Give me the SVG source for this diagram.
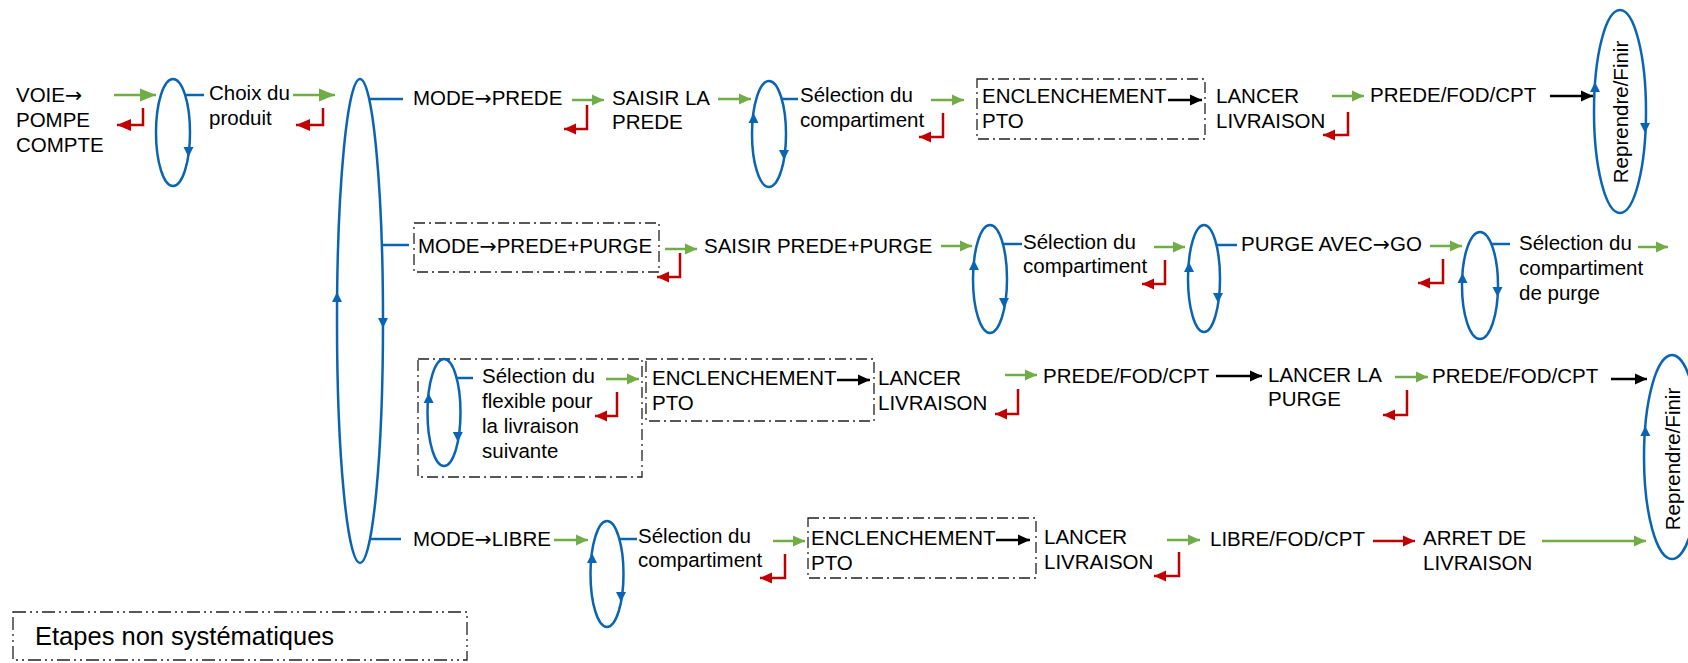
<svg xmlns="http://www.w3.org/2000/svg" width="1688" height="663" viewBox="0 0 1688 663">
<style>
text{font-family:"Liberation Sans",Arial,sans-serif;font-size:20.5px;fill:#000}
.ar{font-family:"DejaVu Sans",sans-serif}
.leg-t{font-size:25.5px}
.el{fill:none;stroke:#0A64B4;stroke-width:2.5}
.st{stroke:#0A64B4;stroke-width:2.5;fill:none}
.bh{fill:#0A64B4}
.g{stroke:#70AD47;stroke-width:2.5;fill:none;marker-end:url(#mg)}
.gb{stroke:#70AD47;stroke-width:2.5;fill:none;marker-end:url(#mgb)}
.r{stroke:#C00000;stroke-width:2.5;fill:none;marker-end:url(#mr)}
.rb{stroke:#C00000;stroke-width:2.5;fill:none;marker-end:url(#mrb)}
.k{stroke:#000;stroke-width:2.5;fill:none;marker-end:url(#mk)}
.box{fill:none;stroke:#222;stroke-width:1.3;stroke-dasharray:11 4 2 4}
.leg{fill:none;stroke:#222;stroke-width:1.3;stroke-dasharray:13 4 2 4 2 4}
</style>
<defs>
<marker id="mg" markerUnits="userSpaceOnUse" markerWidth="13" markerHeight="12" refX="12" refY="6" orient="auto"><path d="M0,0.5 L12,6 L0,11.5z" fill="#70AD47"/></marker>
<marker id="mgb" markerUnits="userSpaceOnUse" markerWidth="17" markerHeight="14" refX="16" refY="7" orient="auto"><path d="M0,0.5 L16,7 L0,13.5z" fill="#70AD47"/></marker>
<marker id="mr" markerUnits="userSpaceOnUse" markerWidth="13" markerHeight="12" refX="12" refY="6" orient="auto"><path d="M0,0.5 L12,6 L0,11.5z" fill="#C00000"/></marker>
<marker id="mrb" markerUnits="userSpaceOnUse" markerWidth="15" markerHeight="13" refX="14" refY="6.5" orient="auto"><path d="M0,0.5 L14,6.5 L0,12.5z" fill="#C00000"/></marker>
<marker id="mk" markerUnits="userSpaceOnUse" markerWidth="13" markerHeight="12" refX="12" refY="6" orient="auto"><path d="M0,0.5 L12,6 L0,11.5z" fill="#000"/></marker>
</defs>

<!-- Row 1 -->
<g id="n-voie"><text x="16" y="102">VOIE<tspan class="ar">→</tspan></text><text x="16" y="127">POMPE</text><text x="16" y="152">COMPTE</text></g>
<g id="n-ell1"><ellipse class="el" cx="173" cy="132.5" rx="17" ry="53.5"/><polygon class="bh" points="188.5,157 183.5,147 193.5,147"/></g>
<g id="n-choix"><text x="209" y="100">Choix du</text><text x="209" y="125">produit</text></g>
<g id="n-big"><ellipse class="el" cx="360" cy="321" rx="23" ry="242"/><polygon class="bh" points="337,292 332,302 342,302"/><polygon class="bh" points="383,328 378,318 388,318"/></g>
<g id="n-mode-prede"><text x="413" y="105">MODE<tspan class="ar">→</tspan>PREDE</text></g>
<g id="n-saisir"><text x="612" y="105">SAISIR LA</text><text x="612" y="129">PREDE</text></g>
<g id="n-ell2"><ellipse class="el" cx="769" cy="134" rx="17" ry="53"/><polygon class="bh" points="753.5,113 748.5,123 758.5,123"/><polygon class="bh" points="784,160 779,150 789,150"/></g>
<g id="n-sel1"><text x="800" y="102">Sélection du</text><text x="800" y="127">compartiment</text></g>
<g id="n-pto1"><rect class="box" x="977" y="79" width="228" height="60"/><text x="982" y="103">ENCLENCHEMENT</text><text x="982" y="128">PTO</text></g>
<g id="n-lancer1"><text x="1216" y="103">LANCER</text><text x="1216" y="128">LIVRAISON</text></g>
<g id="n-pfc1"><text x="1370" y="102">PREDE/FOD/CPT</text></g>
<g id="n-rep1"><ellipse class="el" cx="1620" cy="111.5" rx="26" ry="101.5"/><polygon class="bh" points="1595,82 1590,92 1600,92"/><polygon class="bh" points="1645,133 1640,123 1650,123"/><text transform="translate(1628,112) rotate(-90)" text-anchor="middle">Reprendre/Finir</text></g>

<!-- Row 2 -->
<g id="n-mode-pp"><rect class="box" x="414" y="223" width="245" height="49"/><text x="418" y="253">MODE<tspan class="ar">→</tspan>PREDE+PURGE</text></g>
<g id="n-saisir-pp"><text x="704" y="253">SAISIR PREDE+PURGE</text></g>
<g id="n-r2e1"><ellipse class="el" cx="990" cy="279" rx="17" ry="54"/><polygon class="bh" points="974,260 969,270 979,270"/><polygon class="bh" points="1004,308 999,298 1009,298"/></g>
<g id="n-sel2"><text x="1023" y="249">Sélection du</text><text x="1023" y="273">compartiment</text></g>
<g id="n-r2e2"><ellipse class="el" cx="1204" cy="278.5" rx="16" ry="53.5"/><polygon class="bh" points="1189,262 1184,272 1194,272"/><polygon class="bh" points="1218,303 1213,293 1223,293"/></g>
<g id="n-purge-go"><text x="1241" y="251">PURGE AVEC<tspan class="ar">→</tspan>GO</text></g>
<g id="n-r2e3"><ellipse class="el" cx="1480" cy="285.5" rx="18" ry="53.5"/><polygon class="bh" points="1462.5,273 1457.5,283 1467.5,283"/><polygon class="bh" points="1497.5,297 1492.5,287 1502.5,287"/></g>
<g id="n-sel-purge"><text x="1519" y="250">Sélection du</text><text x="1519" y="275">compartiment</text><text x="1519" y="300">de purge</text></g>

<!-- Row 3 -->
<g id="n-flex"><rect class="box" x="418" y="359" width="224" height="118"/><ellipse class="el" cx="444" cy="412.5" rx="16.5" ry="53.5"/><polygon class="bh" points="428.6,393 423.6,403 433.6,403"/><polygon class="bh" points="457.8,442 452.8,432 462.8,432"/><text x="482" y="383">Sélection du</text><text x="482" y="408">flexible pour</text><text x="482" y="433">la livraison</text><text x="482" y="458">suivante</text></g>
<g id="n-pto3"><rect class="box" x="646" y="359" width="228" height="62"/><text x="652" y="385">ENCLENCHEMENT</text><text x="652" y="410">PTO</text></g>
<g id="n-lancer3"><text x="878" y="385">LANCER</text><text x="878" y="410">LIVRAISON</text></g>
<g id="n-pfc3"><text x="1043" y="383">PREDE/FOD/CPT</text></g>
<g id="n-lancer-purge"><text x="1268" y="382">LANCER LA</text><text x="1268" y="406">PURGE</text></g>
<g id="n-pfc3b"><text x="1432" y="383">PREDE/FOD/CPT</text></g>
<g id="n-rep2"><ellipse class="el" cx="1672" cy="457" rx="28" ry="102"/><polygon class="bh" points="1645.3,426 1640.3,436 1650.3,436"/><text transform="translate(1680,459) rotate(-90)" text-anchor="middle">Reprendre/Finir</text></g>

<!-- Row 4 -->
<g id="n-mode-libre"><text x="413" y="546">MODE<tspan class="ar">→</tspan>LIBRE</text></g>
<g id="n-r4e"><ellipse class="el" cx="607" cy="574" rx="16.5" ry="53"/><polygon class="bh" points="592,553 587,563 597,563"/><polygon class="bh" points="621,602 616,592 626,592"/></g>
<g id="n-sel4"><text x="638" y="543">Sélection du</text><text x="638" y="567">compartiment</text></g>
<g id="n-pto4"><rect class="box" x="808" y="518" width="228" height="60"/><text x="811" y="545">ENCLENCHEMENT</text><text x="811" y="570">PTO</text></g>
<g id="n-lancer4"><text x="1044" y="544">LANCER</text><text x="1044" y="569">LIVRAISON</text></g>
<g id="n-lfc"><text x="1210" y="546">LIBRE/FOD/CPT</text></g>
<g id="n-arret"><text x="1423" y="545">ARRET DE</text><text x="1423" y="570">LIVRAISON</text></g>

<!-- Legend -->
<g id="n-legend"><rect class="leg" x="13" y="612" width="454" height="48"/><text class="leg-t" x="35" y="645">Etapes non systématiques</text></g>

<g id="connectors">
<!-- blue stubs -->
<line class="st" x1="185" y1="95" x2="204" y2="95"/>
<line class="st" x1="369" y1="99" x2="403" y2="99"/>
<line class="st" x1="382" y1="245" x2="409" y2="245"/>
<line class="st" x1="370" y1="539" x2="401" y2="539"/>
<line class="st" x1="782" y1="99" x2="798" y2="99"/>
<line class="st" x1="1003" y1="244" x2="1022" y2="244"/>
<line class="st" x1="1216" y1="245" x2="1237" y2="245"/>
<line class="st" x1="1491" y1="244" x2="1510" y2="244"/>
<line class="st" x1="457" y1="378" x2="473" y2="378"/>
<line class="st" x1="619" y1="539" x2="637" y2="539"/>
<!-- row 1 -->
<line class="gb" x1="114" y1="95" x2="156" y2="95"/>
<path class="rb" d="M143,108 V125 H117"/>
<line class="gb" x1="293" y1="95" x2="335" y2="95"/>
<path class="rb" d="M323,108 V125 H296"/>
<line class="g" x1="572" y1="100" x2="604" y2="100"/>
<path class="r" d="M587,105 V129 H564"/>
<line class="g" x1="718" y1="99" x2="751" y2="99"/>
<line class="g" x1="931" y1="100" x2="964" y2="100"/>
<path class="r" d="M943,113 V137 H919"/>
<line class="k" x1="1168" y1="100" x2="1202" y2="100"/>
<line class="g" x1="1332" y1="96" x2="1364" y2="96"/>
<path class="r" d="M1348,112 V135 H1323"/>
<line class="k" x1="1550" y1="96" x2="1593" y2="96"/>
<!-- row 2 -->
<line class="g" x1="665" y1="249" x2="697" y2="249"/>
<path class="r" d="M680,253 V277 H657"/>
<line class="g" x1="941" y1="246" x2="972" y2="246"/>
<line class="g" x1="1154" y1="247" x2="1185" y2="247"/>
<path class="r" d="M1165,260 V284 H1142"/>
<line class="g" x1="1430" y1="246" x2="1462" y2="246"/>
<path class="r" d="M1443,259 V283 H1418"/>
<line class="g" x1="1638" y1="247" x2="1668" y2="247"/>
<!-- row 3 -->
<line class="g" x1="606" y1="379" x2="639" y2="379"/>
<path class="r" d="M617,392 V416 H595"/>
<line class="k" x1="837" y1="380" x2="870" y2="380"/>
<line class="g" x1="1005" y1="375" x2="1037" y2="375"/>
<path class="r" d="M1018,389 V414 H995"/>
<line class="k" x1="1216" y1="376" x2="1262" y2="376"/>
<line class="g" x1="1395" y1="377" x2="1428" y2="377"/>
<path class="r" d="M1407,390 V415 H1383"/>
<line class="k" x1="1611" y1="379" x2="1647" y2="379"/>
<!-- row 4 -->
<line class="g" x1="554" y1="540" x2="588" y2="540"/>
<line class="g" x1="773" y1="541" x2="805" y2="541"/>
<path class="r" d="M785,554 V578 H760"/>
<line class="k" x1="996" y1="540" x2="1030" y2="540"/>
<line class="g" x1="1167" y1="540" x2="1200" y2="540"/>
<path class="r" d="M1179,552 V576 H1154"/>
<line class="r" x1="1373" y1="541" x2="1415" y2="541"/>
<line class="g" x1="1542" y1="541" x2="1646" y2="541"/>
</g>
</svg>
